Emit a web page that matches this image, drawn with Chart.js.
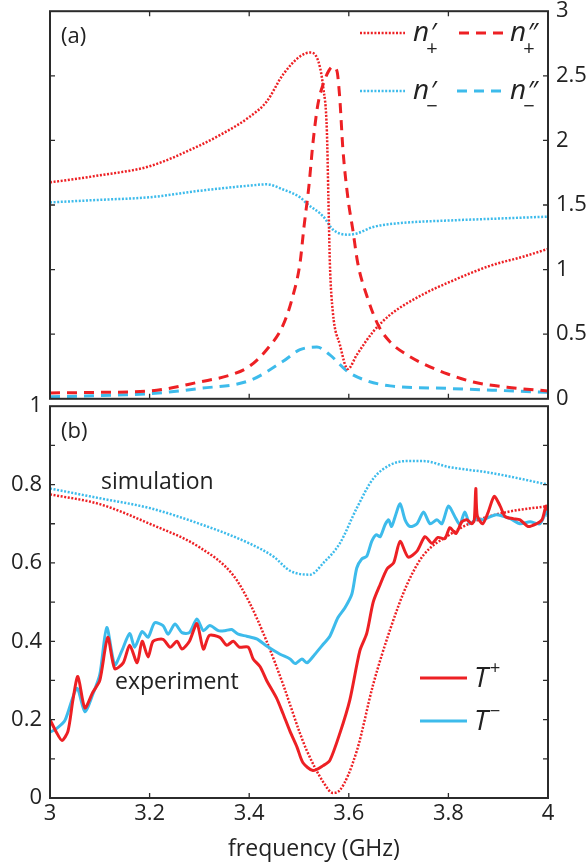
<!DOCTYPE html>
<html lang="en">
<head>
  <meta charset="UTF-8">
  <title>Refractive index and transmission</title>
  <script src="https://cdn.jsdelivr.net/npm/chart.js"></script>
  <style>
    body { margin: 0; background: #fff; }
    #wrap { position: relative; width: 588px; height: 867px; overflow: hidden; background: #fff; }
    #chartA { position: absolute; left: 0; top: -10px; }
    #chartB { position: absolute; left: 0; top: 385px; }
  </style>
</head>
<body>
<div id="wrap">
  <canvas id="chartA" width="588" height="430"></canvas>
  <canvas id="chartB" width="588" height="482"></canvas>
</div>

<script>
  // ---- data ----
  const freqTicks = [3, 3.2, 3.4, 3.6, 3.8, 4];
  const indexTicks = [0, 0.5, 1, 1.5, 2, 2.5, 3];
  const indexInnerTicks = [0.5, 1, 1.5, 2, 2.5];
  const transTicks = [0, 0.2, 0.4, 0.6, 0.8, 1];
  const transMinorTicks = [0.1, 0.2, 0.3, 0.4, 0.5, 0.6, 0.7, 0.8, 0.9];

  // (a) n'+ (red dotted)
  const nPlusReF = [3.0, 3.1, 3.2, 3.3, 3.35, 3.4, 3.435, 3.468, 3.502, 3.522, 3.536, 3.549, 3.556, 3.559, 3.562, 3.568, 3.582, 3.598, 3.616, 3.649, 3.683, 3.75, 3.8, 3.884, 3.95, 4.0];
  const nPlusRe  = [1.675, 1.73, 1.80, 1.96, 2.06, 2.18, 2.30, 2.51, 2.65, 2.68, 2.64, 2.40, 2.07, 1.56, 1.05, 0.67, 0.42, 0.23, 0.34, 0.52, 0.65, 0.81, 0.90, 1.03, 1.10, 1.16];
  // (a) n''+ (red dashed)
  const nPlusImF = [3.0, 3.1, 3.2, 3.3, 3.367, 3.4, 3.435, 3.468, 3.488, 3.502, 3.51, 3.52, 3.528, 3.538, 3.549, 3.56, 3.568, 3.576, 3.582, 3.588, 3.598, 3.608, 3.618, 3.636, 3.659, 3.683, 3.717, 3.75, 3.8, 3.85, 3.918, 4.0];
  const nPlusIm  = [0.045, 0.05, 0.06, 0.13, 0.19, 0.25, 0.38, 0.57, 0.80, 1.05, 1.33, 1.65, 1.98, 2.28, 2.44, 2.54, 2.57, 2.54, 2.32, 1.94, 1.56, 1.31, 1.05, 0.80, 0.57, 0.44, 0.34, 0.27, 0.19, 0.13, 0.09, 0.06];
  // (a) n'- (blue dotted)
  const nMinusReF = [3.0, 3.1, 3.2, 3.3, 3.4, 3.435, 3.468, 3.502, 3.516, 3.549, 3.568, 3.598, 3.616, 3.649, 3.703, 3.8, 3.9, 4.0];
  const nMinusRe  = [1.52, 1.54, 1.56, 1.61, 1.65, 1.66, 1.62, 1.56, 1.51, 1.41, 1.31, 1.27, 1.28, 1.33, 1.36, 1.38, 1.395, 1.41];
  // (a) n''- (blue dashed)
  const nMinusImF = [3.0, 3.1, 3.2, 3.3, 3.4, 3.468, 3.502, 3.536, 3.562, 3.598, 3.636, 3.683, 3.8, 3.9, 4.0];
  const nMinusIm  = [0.015, 0.025, 0.04, 0.08, 0.14, 0.29, 0.38, 0.40, 0.34, 0.21, 0.14, 0.10, 0.08, 0.065, 0.05];

  // (b) simulation T+ (red dotted)
  const simPlusF = [3.0, 3.1, 3.2, 3.3, 3.367, 3.4, 3.435, 3.468, 3.502, 3.516, 3.549, 3.568, 3.582, 3.616, 3.649, 3.683, 3.717, 3.75, 3.8, 3.85, 3.918, 4.0];
  const simPlus  = [0.775, 0.75, 0.70, 0.64, 0.57, 0.50, 0.40, 0.29, 0.165, 0.12, 0.04, 0.013, 0.02, 0.12, 0.29, 0.43, 0.545, 0.62, 0.67, 0.705, 0.73, 0.745];
  // (b) simulation T- (blue dotted)
  const simMinusF = [3.0, 3.1, 3.2, 3.3, 3.4, 3.45, 3.482, 3.522, 3.549, 3.582, 3.616, 3.649, 3.683, 3.717, 3.75, 3.8, 3.884, 4.0];
  const simMinus  = [0.79, 0.765, 0.74, 0.70, 0.65, 0.615, 0.58, 0.57, 0.60, 0.65, 0.74, 0.815, 0.85, 0.86, 0.86, 0.845, 0.83, 0.80];

  // (b) experiment T+ (red solid)
  const expPlusF = [3.0, 3.012, 3.024, 3.036, 3.046, 3.056, 3.07, 3.086, 3.10, 3.116, 3.13, 3.147, 3.16, 3.175, 3.185, 3.197, 3.207, 3.227, 3.241, 3.255, 3.265, 3.28, 3.295, 3.308, 3.32, 3.341, 3.355, 3.368, 3.38, 3.398, 3.408, 3.422, 3.435, 3.455, 3.468, 3.482, 3.496, 3.508, 3.528, 3.549, 3.562, 3.582, 3.602, 3.622, 3.636, 3.649, 3.663, 3.677, 3.69, 3.703, 3.719, 3.737, 3.753, 3.767, 3.779, 3.793, 3.803, 3.815, 3.827, 3.837, 3.847, 3.852, 3.855, 3.858, 3.869, 3.88, 3.892, 3.904, 3.914, 3.93, 3.944, 3.96, 3.977, 3.988, 3.996, 4.0];
  const expPlus  = [0.20, 0.17, 0.147, 0.17, 0.25, 0.31, 0.23, 0.27, 0.30, 0.41, 0.33, 0.345, 0.39, 0.345, 0.40, 0.36, 0.40, 0.405, 0.385, 0.40, 0.38, 0.40, 0.445, 0.38, 0.415, 0.41, 0.39, 0.40, 0.385, 0.385, 0.355, 0.335, 0.30, 0.255, 0.215, 0.17, 0.13, 0.09, 0.07, 0.083, 0.096, 0.165, 0.25, 0.375, 0.42, 0.50, 0.545, 0.585, 0.60, 0.655, 0.615, 0.63, 0.667, 0.65, 0.665, 0.662, 0.69, 0.675, 0.705, 0.71, 0.70, 0.71, 0.79, 0.72, 0.70, 0.73, 0.77, 0.745, 0.718, 0.713, 0.71, 0.693, 0.70, 0.71, 0.745, 0.735];
  // (b) experiment T- (blue solid)
  const expMinusF = [3.0, 3.013, 3.03, 3.054, 3.07, 3.086, 3.10, 3.114, 3.13, 3.144, 3.16, 3.17, 3.185, 3.197, 3.21, 3.227, 3.237, 3.251, 3.265, 3.28, 3.295, 3.308, 3.321, 3.338, 3.351, 3.365, 3.378, 3.395, 3.415, 3.435, 3.462, 3.482, 3.492, 3.506, 3.516, 3.532, 3.549, 3.562, 3.578, 3.592, 3.606, 3.616, 3.626, 3.636, 3.646, 3.655, 3.663, 3.673, 3.68, 3.686, 3.693, 3.703, 3.713, 3.723, 3.737, 3.75, 3.763, 3.777, 3.787, 3.80, 3.813, 3.823, 3.833, 3.843, 3.857, 3.869, 3.896, 3.924, 3.944, 3.964, 3.984, 3.998, 4.0];
  const expMinus  = [0.168, 0.177, 0.198, 0.28, 0.22, 0.265, 0.315, 0.435, 0.34, 0.375, 0.42, 0.385, 0.425, 0.41, 0.447, 0.44, 0.418, 0.444, 0.422, 0.422, 0.457, 0.427, 0.44, 0.427, 0.427, 0.43, 0.418, 0.413, 0.406, 0.388, 0.367, 0.355, 0.343, 0.355, 0.345, 0.367, 0.393, 0.413, 0.46, 0.485, 0.52, 0.587, 0.61, 0.617, 0.655, 0.672, 0.667, 0.698, 0.71, 0.693, 0.718, 0.751, 0.71, 0.693, 0.70, 0.73, 0.70, 0.71, 0.70, 0.745, 0.718, 0.698, 0.73, 0.70, 0.713, 0.71, 0.723, 0.713, 0.70, 0.705, 0.70, 0.735, 0.718];

  const RED = '#ed2024';
  const BLUE = '#3dbbeb';
  const INK = '#222';
  const FONT = "'Open Sans', sans-serif";
  const DOT = [2, 1.6];
  const DASH = [10, 7];

  const pts = (f, v) => f.map((x, i) => ({ x: x, y: v[i] }));
  const plain = v => String(Math.round(v * 100) / 100);

  function line(f, v, color, dash, width, smooth) {
    return {
      data: pts(f, v),
      borderColor: color,
      borderWidth: width,
      borderDash: dash,
      pointRadius: 0,
      fill: false,
      cubicInterpolationMode: smooth ? 'monotone' : 'default',
      tension: smooth ? 0 : 0.25
    };
  }

  // frame + inward ticks, like the matlab box
  function drawFrame(chart, xTicks, yTicks, topTicks) {
    const { ctx, chartArea: a, scales } = chart;
    ctx.save();
    ctx.strokeStyle = '#2b2b2b';
    ctx.lineWidth = 2;
    ctx.strokeRect(a.left, a.top, a.right - a.left, a.bottom - a.top);
    ctx.lineWidth = 1.3;
    ctx.beginPath();
    xTicks.forEach(v => {
      const px = scales.x.getPixelForValue(v);
      ctx.moveTo(px, a.bottom); ctx.lineTo(px, a.bottom - 5);
      if (topTicks) { ctx.moveTo(px, a.top); ctx.lineTo(px, a.top + 5); }
    });
    yTicks.forEach(v => {
      const py = scales.y.getPixelForValue(v);
      ctx.moveTo(a.left, py); ctx.lineTo(a.left + 5, py);
      ctx.moveTo(a.right, py); ctx.lineTo(a.right - 5, py);
    });
    ctx.stroke();
    ctx.restore();
  }

  function legendLine(ctx, x1, x2, y, color, dash, width) {
    ctx.save();
    ctx.strokeStyle = color;
    ctx.lineWidth = width;
    ctx.setLineDash(dash);
    ctx.beginPath();
    ctx.moveTo(x1, y); ctx.lineTo(x2, y);
    ctx.stroke();
    ctx.restore();
  }

  function symbol(ctx, x, base, main, sup, sub) {
    ctx.font = 'italic 28px ' + FONT;
    ctx.fillStyle = INK;
    ctx.textAlign = 'left';
    ctx.textBaseline = 'alphabetic';
    ctx.fillText(main, x, base);
    const w = ctx.measureText(main).width;
    if (sup) { ctx.font = 'italic 26px ' + FONT; ctx.fillText(sup, x + w + 1, base); }
    if (sub) { ctx.font = '20px ' + FONT; ctx.fillText(sub, x + w - 3, base + 14); }
  }

  const panelA = {
    id: 'panelA',
    afterDatasetsDraw(chart) {
      const ctx = chart.ctx;
      drawFrame(chart, [3.2, 3.4, 3.6, 3.8], indexInnerTicks, true);
      ctx.save();
      ctx.translate(0, 10); // page coordinates
      ctx.font = '22px ' + FONT;
      ctx.fillStyle = INK;
      ctx.textBaseline = 'middle';
      ctx.fillText('(a)', 61, 37);
      legendLine(ctx, 360, 405, 33, RED, DOT, 2.5);
      legendLine(ctx, 459, 505, 33, RED, DASH, 3);
      legendLine(ctx, 360, 405, 91, BLUE, DOT, 2.5);
      legendLine(ctx, 457, 505, 91, BLUE, DASH, 3);
      symbol(ctx, 413, 41, 'n', '\u2032', '+');
      symbol(ctx, 510, 41, 'n', '\u2033', '+');
      symbol(ctx, 413, 99, 'n', '\u2032', '\u2212');
      symbol(ctx, 510, 99, 'n', '\u2033', '\u2212');
      ctx.restore();
    }
  };

  const panelB = {
    id: 'panelB',
    afterDatasetsDraw(chart) {
      const ctx = chart.ctx;
      drawFrame(chart, [3.2, 3.4, 3.6, 3.8], transMinorTicks, false);
      ctx.save();
      ctx.translate(0, -385); // page coordinates
      ctx.fillStyle = INK;
      ctx.textBaseline = 'middle';
      ctx.font = '22px ' + FONT;
      ctx.fillText('(b)', 61, 432);
      ctx.textBaseline = 'alphabetic';
      ctx.font = '23px ' + FONT;
      ctx.fillText('simulation', 101, 489);
      ctx.fillText('experiment', 115, 689);
      ctx.textAlign = 'center';
      ctx.font = '23px ' + FONT;
      ctx.fillText('frequency (GHz)', 314, 856);
      ctx.textAlign = 'left';
      legendLine(ctx, 420, 467, 678, RED, [], 3);
      legendLine(ctx, 420, 467, 721, BLUE, [], 3);
      ctx.font = 'italic 28px ' + FONT;
      ctx.fillText('T', 474, 687);
      ctx.fillText('T', 474, 730);
      ctx.font = '18px ' + FONT;
      ctx.fillText('+', 490, 674);
      ctx.fillText('\u2212', 490, 717);
      ctx.restore();
    }
  };

  const tickFont = { family: FONT, size: 22 };

  new Chart(document.getElementById('chartA').getContext('2d'), {
    type: 'line',
    data: {
      datasets: [
        line(nPlusReF, nPlusRe, RED, DOT, 2.5, true),
        line(nPlusImF, nPlusIm, RED, DASH, 3, true),
        line(nMinusReF, nMinusRe, BLUE, DOT, 2.5, true),
        line(nMinusImF, nMinusIm, BLUE, DASH, 3, true)
      ]
    },
    options: {
      responsive: false,
      animation: false,
      layout: { padding: { left: 50, top: 21, bottom: 15, right: 0 } },
      plugins: { legend: { display: false }, tooltip: { enabled: false } },
      scales: {
        x: { type: 'linear', min: 3, max: 4, display: false },
        y: {
          position: 'right', min: 0, max: 3,
          afterFit: s => { s.width = 40; },
          afterBuildTicks: s => { s.ticks = indexTicks.map(v => ({ value: v })); },
          grid: { display: false, drawTicks: false },
          border: { display: false },
          ticks: { padding: 8, font: tickFont, color: INK, callback: plain }
        }
      }
    },
    plugins: [panelA]
  });

  new Chart(document.getElementById('chartB').getContext('2d'), {
    type: 'line',
    data: {
      datasets: [
        line(expPlusF, expPlus, RED, [], 3, false),
        line(expMinusF, expMinus, BLUE, [], 3, false),
        line(simPlusF, simPlus, RED, DOT, 2.5, true),
        line(simMinusF, simMinus, BLUE, DOT, 2.5, true)
      ]
    },
    options: {
      responsive: false,
      animation: false,
      layout: { padding: { left: 0, top: 20, bottom: 0, right: 40 } },
      plugins: { legend: { display: false }, tooltip: { enabled: false } },
      scales: {
        x: {
          type: 'linear', min: 3, max: 4,
          afterFit: s => { s.height = 69; },
          afterBuildTicks: s => { s.ticks = freqTicks.map(v => ({ value: v })); },
          grid: { display: false, drawTicks: false },
          border: { display: false },
          ticks: { padding: 3, font: tickFont, color: INK, maxRotation: 0, callback: plain }
        },
        y: {
          position: 'left', min: 0, max: 1,
          afterFit: s => { s.width = 50; },
          afterBuildTicks: s => { s.ticks = transTicks.map(v => ({ value: v })); },
          grid: { display: false, drawTicks: false },
          border: { display: false },
          ticks: { padding: 8, font: tickFont, color: INK, callback: plain }
        }
      }
    },
    plugins: [panelB]
  });
</script>
</body>
</html>
